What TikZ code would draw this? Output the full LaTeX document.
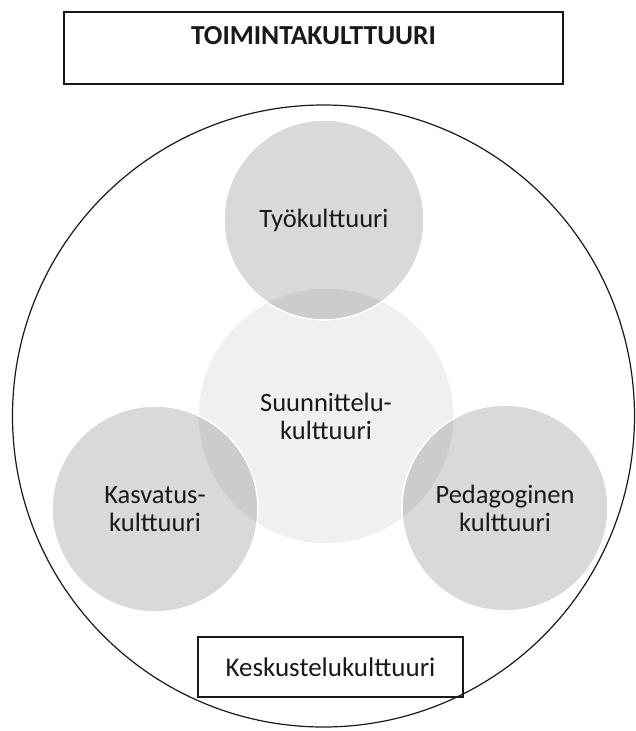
\documentclass[tikz,border=0pt]{standalone}
\usepackage{fontspec}
\setmainfont{Carlito}
\tikzset{
  culture/.style={circle, draw=white, line width=1.5pt, text=black!90, text opacity=1,
    align=center, inner sep=0pt, font=\fontsize{26.5}{28}\selectfont},
  labelbox/.style={draw=black!90, line width=1.1pt, text=black!90}
}
\begin{document}
\begin{tikzpicture}[x=1pt, y=-1pt]
    \useasboundingbox (0,0) rectangle (635,731);
    \node[labelbox, minimum width=499pt, text height=18pt, text depth=26pt, inner ysep=14pt,
      font=\bfseries\fontsize{27.5}{30}\selectfont] (toiminta) at (313.5,48) {TOIMINTAKULTTUURI};
    \node[circle, draw=black!90, line width=1.2pt, minimum size=622pt] (ymparys) at (323.5,416) {};
    \node[culture, fill=black!6, minimum size=256pt] (suunnittelu) at (326,416) {Suunnittelu-\\kulttuuri};
    \node[culture, fill=black, fill opacity=0.15, minimum size=200pt] (tyo) at (324,220) {Työkulttuuri};
    \node[culture, fill=black, fill opacity=0.15, minimum size=206pt] (kasvatus) at (155,509) {Kasvatus-\\kulttuuri};
    \node[culture, fill=black, fill opacity=0.15, minimum size=206pt] (pedagoginen) at (505,508) {Pedagoginen\\kulttuuri};
    \node[labelbox, minimum width=265pt, minimum height=60pt, font=\fontsize{27}{28}\selectfont] (keskustelu) at (330.5,667) {Keskustelukulttuuri};
\end{tikzpicture}
\end{document}
